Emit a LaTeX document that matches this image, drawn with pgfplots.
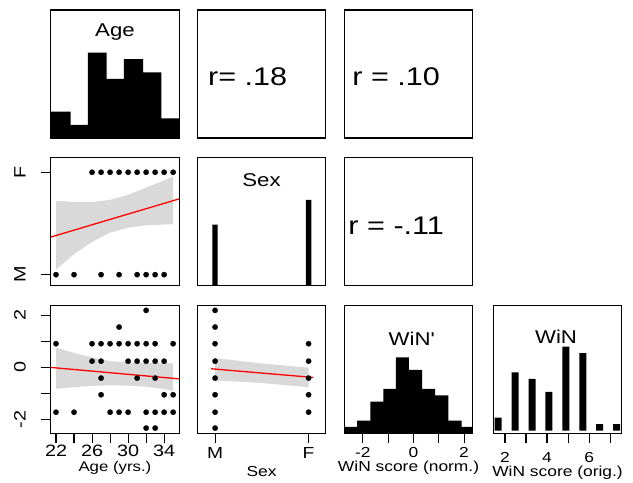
\documentclass[border=0pt]{standalone}
\usepackage{fontspec}
\setmainfont{Liberation Sans}[FakeStretch=1.2]
\newfontfamily\nolig{Liberation Sans}[FakeStretch=1.2]
\usepackage{pgfplots}
\pgfplotsset{compat=1.18}
\newcommand\fs[1]{\fontsize{#1bp}{#1bp}\selectfont}
\definecolor{bandgray}{RGB}{206,206,206}
\pgfplotsset{
 panel/.style={scale only axis, width=128.5bp, height=128bp, anchor=north west,
   axis line style={line width=1.1bp, black}, xtick=\empty, ytick=\empty,
   tick align=outside, major tick length=10bp, tick style={line width=1.1bp, black},
   xtick pos=bottom, ytick pos=left,
   xticklabel style={anchor=base, inner sep=0pt},
   yticklabel style={rotate=90, anchor=base, inner sep=0pt},
   xlabel style={at={(axis description cs:0.5,0)}, anchor=base, inner sep=0pt}},
 pts/.style={only marks, mark=*, mark size=2.7bp, black, mark options={fill=black, draw=black, line width=0.2bp}},
 band/.style={draw=none, fill=bandgray, fill opacity=0.78},
 reg/.style={red, line width=1.3bp, no marks},
}
\begin{document}
\begin{tikzpicture}
\useasboundingbox (0,0) rectangle (633bp,-483bp);
% ---------- Row 1 ----------
\begin{axis}[panel, at={(50.7bp,-10bp)}, xmin=0, xmax=7, ymin=0, ymax=19.5]
\addplot[const plot, fill=black, draw=none] coordinates {(0,4)(1.08,2)(2.02,13)(3.05,9)(3.99,12)(5.03,10)(6.03,3)(7,3)} \closedcycle;
\node[font=\fs{18.5}, anchor=base] at (axis description cs:0.5,0.791) {Age};
\end{axis}
\begin{axis}[panel, at={(197.3bp,-10bp)}, xmin=0, xmax=1, ymin=0, ymax=1]
\node[font=\fs{25.5}, anchor=base] at (axis description cs:0.392,0.413) {r= .18};
\end{axis}
\begin{axis}[panel, at={(344.3bp,-10bp)}, xmin=0, xmax=1, ymin=0, ymax=1]
\node[font=\fs{25.5}, anchor=base] at (axis description cs:0.404,0.413) {r = .10};
\end{axis}
% ---------- Row 2 ----------
\begin{axis}[panel, at={(50.7bp,-157.3bp)}, xmin=21.41, xmax=35.67, ymin=-0.104, ymax=1.146,
  ytick={0,1}, yticklabels={M,F}, yticklabel style={font=\fs{16.5}}, yticklabel shift=15.2bp]
\addplot[pts] coordinates {(26,1)(27,1)(28,1)(29,1)(30,1)(31,1)(32,1)(33,1)(34,1)(35,1)
 (22,0)(24,0)(27,0)(29,0)(31,0)(32,0)(33,0)(34,0)};
\addplot[band] coordinates {(22,0.72)(24,0.71)(26,0.71)(28,0.73)(30,0.78)(32,0.85)(34,0.92)(35,0.96)
 (35,0.49)(34,0.49)(32,0.48)(30,0.46)(28,0.41)(26,0.32)(24,0.20)(22,0.05)} -- cycle;
\addplot[reg] coordinates {(21.41,0.367)(35.67,0.74)};
\end{axis}
\begin{axis}[panel, at={(197.3bp,-157.3bp)}, xmin=-0.19, xmax=1.184, ymin=0, ymax=46.4]
\addplot[ybar, bar width=0.057, fill=black, draw=none] coordinates {(0,22)(1,31)};
\node[font=\fs{18.5}, anchor=base] at (axis description cs:0.5,0.774) {Sex};
\end{axis}
\begin{axis}[panel, at={(344.3bp,-157.3bp)}, xmin=0, xmax=1, ymin=0, ymax=1]
\node[font=\fs{25.5}, anchor=base] at (axis description cs:0.404,0.395) {r = -.11};
\end{axis}
% ---------- Row 3 ----------
\begin{axis}[panel, at={(50.7bp,-305.3bp)}, xmin=21.41, xmax=35.67, ymin=-2.53, ymax=2.385,
  xtick={22,24,...,34}, xticklabels={22,,26,,30,,34}, xticklabel style={font=\fs{16.5}}, xticklabel shift=13.4bp,
  ytick={-2,-1,0,1,2}, yticklabels={-2,,0,,2}, yticklabel style={font=\fs{16.5}}, yticklabel shift=15.2bp,
  xlabel={Age (yrs.)}, xlabel style={yshift=-38.5bp, font=\fs{14}}]
\addplot[pts] coordinates {(32,2.19)(29,1.55)
 (22,0.91)(26,0.91)(27,0.91)(28,0.91)(29,0.91)(30,0.91)(31,0.91)(32,0.91)(33,0.91)(35,0.91)
 (26,0.24)(27,0.24)(30,0.24)(31,0.24)(32,0.24)(33,0.24)(34,0.24)
 (27,-0.41)(31,-0.41)(33,-0.41)
 (27,-1.05)(34,-1.05)(35,-1.05)
 (22,-1.72)(24,-1.72)(28,-1.72)(29,-1.72)(30,-1.72)(32,-1.72)(33,-1.72)(34,-1.72)(35,-1.72)
 (32,-2.33)(33,-2.33)};
\addplot[band] coordinates {(22,0.76)(24,0.56)(26,0.38)(28,0.24)(30,0.19)(32,0.17)(34,0.16)(35,0.16)
 (35,-0.90)(34,-0.83)(32,-0.74)(30,-0.70)(28,-0.69)(26,-0.71)(24,-0.76)(22,-0.82)} -- cycle;
\addplot[reg] coordinates {(21.41,0.0)(35.67,-0.44)};
\end{axis}
\begin{axis}[panel, at={(197.3bp,-305.3bp)}, xmin=-0.19, xmax=1.184, ymin=-2.53, ymax=2.385,
  xtick={0,1}, xticklabels={M,F}, xticklabel style={font=\fs{16}}, xticklabel shift=15bp,
  xlabel={Sex}, xlabel style={yshift=-43.4bp, font=\fs{14.5}}]
\addplot[pts] coordinates {(0,2.19)(0,1.55)(0,0.91)(0,0.24)(0,-0.41)(0,-1.05)(0,-1.72)(0,-2.33)
 (1,0.91)(1,0.24)(1,-0.41)(1,-1.05)(1,-1.72)};
\addplot[band] coordinates {(0,0.36)(0.5,0.15)(1,-0.01)(1,-0.76)(0.5,-0.60)(0,-0.50)} -- cycle;
\addplot[reg] coordinates {(-0.043,-0.051)(1.05,-0.385)};
\end{axis}
\begin{axis}[panel, at={(344.3bp,-305.3bp)}, xmin=-2.736, xmax=2.345, ymin=0, ymax=20.2,
  xtick={-2,-1,0,1,2}, xticklabels={-2,,0,,2}, xticklabel style={font=\fs{14.5}}, xticklabel shift=14.3bp,
  xlabel={WiN score (norm.)}, xlabel style={yshift=-37.7bp, font=\fs{14.5}}]
\addplot[const plot, fill=black, draw=none] coordinates {(-2.75,1)(-2.23,2)(-1.71,5)(-1.19,7)(-0.70,12)(-0.18,10)(0.34,7)(0.86,6)(1.38,2)(1.90,1)(2.42,1)} \closedcycle;
\node[font=\fs{18.5}\nolig, anchor=base] at (axis description cs:0.525,0.689) {WiN'};
\end{axis}
\begin{axis}[panel, at={(493.3bp,-305.3bp)}, xmin=1.444, xmax=7.556, ymin=-0.43, ymax=19.39,
  xtick={2,3,4,5,6,7}, xticklabels={2,,4,,6,}, xticklabel style={font=\fs{14.5}}, xticklabel shift=19bp,
  xlabel={WiN score (orig.)}, xlabel style={yshift=-43.5bp, font=\fs{14.5}}]
\addplot[ybar, bar width=0.333, fill=black, draw=none] coordinates {(1.67,2)(2.48,9)(3.29,8)(4.09,6)(4.89,13)(5.70,12)(6.50,1)(7.31,1)};
\node[font=\fs{18.5}, anchor=base] at (axis description cs:0.488,0.70) {WiN};
\end{axis}
\end{tikzpicture}
\end{document}
